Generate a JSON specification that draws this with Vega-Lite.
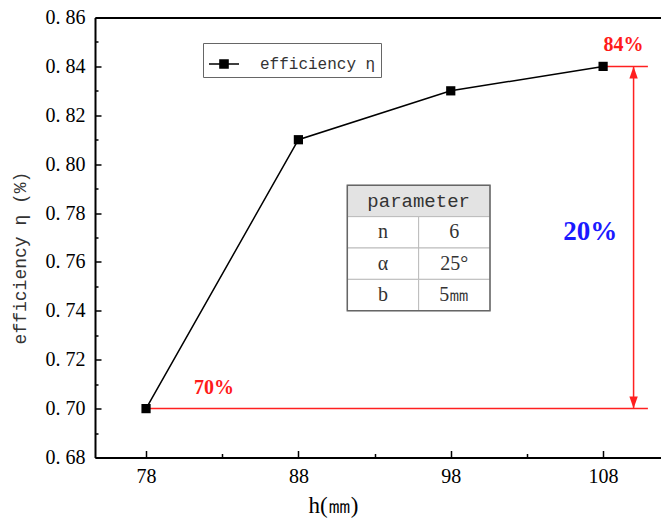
{
  "$schema": "https://vega.github.io/schema/vega-lite/v6.json",
  "width": 566,
  "height": 440,
  "autosize": "none",
  "padding": {"left": 95, "top": 17.5, "right": 0, "bottom": 63.5},
  "background": "white",
  "config": {"view": {"stroke": null}},
  "datasets": {
    "eff": [
      {"h": 78, "eff": 0.70, "series": "efficiency η"},
      {"h": 88, "eff": 0.81, "series": "efficiency η"},
      {"h": 98, "eff": 0.83, "series": "efficiency η"},
      {"h": 108, "eff": 0.84, "series": "efficiency η"}
    ],
    "rules": [
      {"x": 78, "x2": 110.94, "y": 0.70, "y2": 0.70},
      {"x": 108, "x2": 110.94, "y": 0.84, "y2": 0.84},
      {"x": 110, "x2": 110, "y": 0.70, "y2": 0.84}
    ],
    "redLabels": [
      {"x": 109.34, "y": 0.8486, "label": "84%"},
      {"x": 82.46, "y": 0.7086, "label": "70%"}
    ],
    "blueLabels": [
      {"x": 107.15, "y": 0.7724, "label": "20%"}
    ],
    "cells": [
      {"c0": 0, "c1": 2, "r0": 0, "r1": 1, "text": "parameter", "head": true},
      {"c0": 0, "c1": 1, "r0": 1, "r1": 2, "text": "n", "head": false},
      {"c0": 1, "c1": 2, "r0": 1, "r1": 2, "text": "6", "head": false},
      {"c0": 0, "c1": 1, "r0": 2, "r1": 3, "text": "α", "head": false},
      {"c0": 1, "c1": 2, "r0": 2, "r1": 3, "text": "25°", "head": false},
      {"c0": 0, "c1": 1, "r0": 3, "r1": 4, "text": "b", "head": false},
      {"c0": 1, "c1": 2, "r0": 3, "r1": 4, "text": "5㎜", "head": false}
    ]
  },
  "layer": [
    {
      "layer": [
        {
          "data": {"name": "rules"},
          "mark": {"type": "rule", "color": "#ff2020", "strokeWidth": 1.5},
          "encoding": {
            "x": {"field": "x", "type": "quantitative", "scale": {"domain": [74.65, 111.8], "nice": false, "zero": false},
              "axis": {"orient": "top", "labels": false, "ticks": false, "title": null, "grid": false, "domainWidth": 2, "domainColor": "black"}},
            "x2": {"field": "x2"},
            "y": {"field": "y", "type": "quantitative", "scale": {"domain": [0.68, 0.86], "nice": false, "zero": false}, "axis": null},
            "y2": {"field": "y2"}
          }
        },
        {
          "data": {"name": "eff"},
          "mark": {"type": "line", "strokeWidth": 1.5},
          "encoding": {
            "x": {"field": "h", "type": "quantitative",
              "axis": {
                "orient": "bottom",
                "values": [78, 83, 88, 93, 98, 103, 108],
                "labelExpr": "(datum.value - 78) % 10 == 0 ? datum.value : ''",
                "tickSize": {"condition": {"test": "(datum.value - 78) % 10 == 0", "value": -7}, "value": -4},
                "tickWidth": 1.5, "tickColor": "black",
                "domainWidth": 2, "domainColor": "black", "grid": false,
                "labelFont": "Liberation Serif", "labelFontSize": 20, "labelColor": "black", "labelPadding": 16,
                "title": "h(㎜)", "titleFont": "Liberation Serif", "titleFontSize": 23, "titleFontWeight": "normal", "titleColor": "black",
                "titleX": 238, "titleY": 48, "titleBaseline": "middle", "titleAlign": "center"
              }},
            "y": {"field": "eff", "type": "quantitative",
              "axis": {
                "values": [0.68, 0.69, 0.70, 0.71, 0.72, 0.73, 0.74, 0.75, 0.76, 0.77, 0.78, 0.79, 0.80, 0.81, 0.82, 0.83, 0.84, 0.85, 0.86],
                "labelExpr": "round(datum.value*100) % 2 == 0 ? replace(format(datum.value, '.2f'), '.', '. ') : ''",
                "tickSize": {"condition": {"test": "round(datum.value*100) % 2 == 0", "value": -6}, "value": -3},
                "tickWidth": 1.5, "tickColor": "black",
                "domainWidth": 2, "domainColor": "black", "grid": false,
                "labelFont": "Liberation Serif", "labelFontSize": 20, "labelColor": "black", "labelPadding": 16,
                "title": "efficiency η (%)", "titleFont": "Liberation Mono", "titleFontSize": 18, "titleFontWeight": "normal", "titleColor": "#333",
                "titleX": -75, "titleY": 240, "titleBaseline": "middle", "titleAlign": "center"
              }},
            "color": {"field": "series", "type": "nominal", "scale": {"range": ["black"]},
              "legend": {
                "orient": "none", "legendX": 108, "legendY": 25.5, "title": null,
                "symbolType": "M-1,0L1,0M-0.27,-0.27L0.27,-0.27L0.27,0.27L-0.27,0.27Z",
                "symbolSize": 900, "symbolStrokeWidth": 1.5, "symbolFillColor": "black",
                "labelFont": "Liberation Mono", "labelFontSize": 16, "labelColor": "#333", "labelOffset": 20,
                "strokeColor": "#666", "padding": 5,
                "labelLimit": 300
              }}
          }
        },
        {
          "data": {"name": "eff"},
          "mark": {"type": "point", "shape": "square", "filled": true, "color": "black", "size": 85, "opacity": 1},
          "encoding": {
            "x": {"field": "h", "type": "quantitative", "axis": null},
            "y": {"field": "eff", "type": "quantitative", "axis": null}
          }
        },
        {
          "data": {"values": [{"x": 110, "y": 0.84}]},
          "mark": {"type": "point", "shape": "M0,0L-0.35,1L0.35,1Z", "filled": true, "color": "#ff2020", "size": 576, "opacity": 1},
          "encoding": {
            "x": {"field": "x", "type": "quantitative", "axis": null},
            "y": {"field": "y", "type": "quantitative", "axis": null}
          }
        },
        {
          "data": {"values": [{"x": 110, "y": 0.70}]},
          "mark": {"type": "point", "shape": "M0,0L-0.35,-1L0.35,-1Z", "filled": true, "color": "#ff2020", "size": 576, "opacity": 1},
          "encoding": {
            "x": {"field": "x", "type": "quantitative", "axis": null},
            "y": {"field": "y", "type": "quantitative", "axis": null}
          }
        },
        {
          "data": {"name": "redLabels"},
          "mark": {"type": "text", "color": "#ff1a1a", "font": "Liberation Serif", "fontSize": 20, "fontWeight": "bold", "align": "center", "baseline": "middle"},
          "encoding": {
            "x": {"field": "x", "type": "quantitative", "axis": null},
            "y": {"field": "y", "type": "quantitative", "axis": null},
            "text": {"field": "label"}
          }
        },
        {
          "data": {"name": "blueLabels"},
          "mark": {"type": "text", "color": "#1a1aff", "font": "Liberation Serif", "fontSize": 27, "fontWeight": "bold", "align": "center", "baseline": "middle"},
          "encoding": {
            "x": {"field": "x", "type": "quantitative", "axis": null},
            "y": {"field": "y", "type": "quantitative", "axis": null},
            "text": {"field": "label"}
          }
        }
      ],
      "resolve": {"axis": {"x": "independent", "y": "independent"}}
    },
    {
      "data": {"name": "cells"},
      "layer": [
        {
          "mark": {"type": "rect", "stroke": "#bbbbbb", "strokeWidth": 1},
          "encoding": {
            "x": {"field": "c0", "type": "quantitative", "scale": {"domain": [0, 2], "range": [252.3, 395]}, "axis": null},
            "x2": {"field": "c1"},
            "y": {"field": "r0", "type": "quantitative", "scale": {"domain": [0, 4], "range": [167.8, 293.2]}, "axis": null},
            "y2": {"field": "r1"},
            "fill": {"field": "head", "type": "nominal", "scale": {"domain": [true, false], "range": ["#e3e3e3", "white"]}, "legend": null}
          }
        },
        {
          "transform": [{"filter": "datum.head"}],
          "mark": {"type": "text", "font": "Liberation Mono", "fontSize": 19, "color": "#333", "align": "center", "baseline": "middle"},
          "encoding": {
            "x": {"field": "mid", "type": "quantitative", "axis": null},
            "y": {"field": "rm", "type": "quantitative", "axis": null},
            "text": {"field": "text"}
          }
        },
        {
          "transform": [{"filter": "!datum.head"}],
          "mark": {"type": "text", "font": "Liberation Serif", "fontSize": 20, "color": "#333", "align": "center", "baseline": "middle"},
          "encoding": {
            "x": {"field": "mid", "type": "quantitative", "axis": null},
            "y": {"field": "rm", "type": "quantitative", "axis": null},
            "text": {"field": "text"}
          }
        }
      ],
      "transform": [{"calculate": "(datum.c0 + datum.c1) / 2", "as": "mid"}, {"calculate": "(datum.r0 + datum.r1) / 2", "as": "rm"}]
    },
    {
      "data": {"values": [{"c0": 0, "c1": 2, "r0": 0, "r1": 4}]},
      "mark": {"type": "rect", "fill": null, "stroke": "#666666", "strokeWidth": 1.5},
      "encoding": {
        "x": {"field": "c0", "type": "quantitative", "scale": {"domain": [0, 2], "range": [252.3, 395]}, "axis": null},
        "x2": {"field": "c1"},
        "y": {"field": "r0", "type": "quantitative", "scale": {"domain": [0, 4], "range": [167.8, 293.2]}, "axis": null},
        "y2": {"field": "r1"}
      }
    }
  ],
  "resolve": {"scale": {"x": "independent", "y": "independent", "fill": "independent", "color": "independent"}}
}
